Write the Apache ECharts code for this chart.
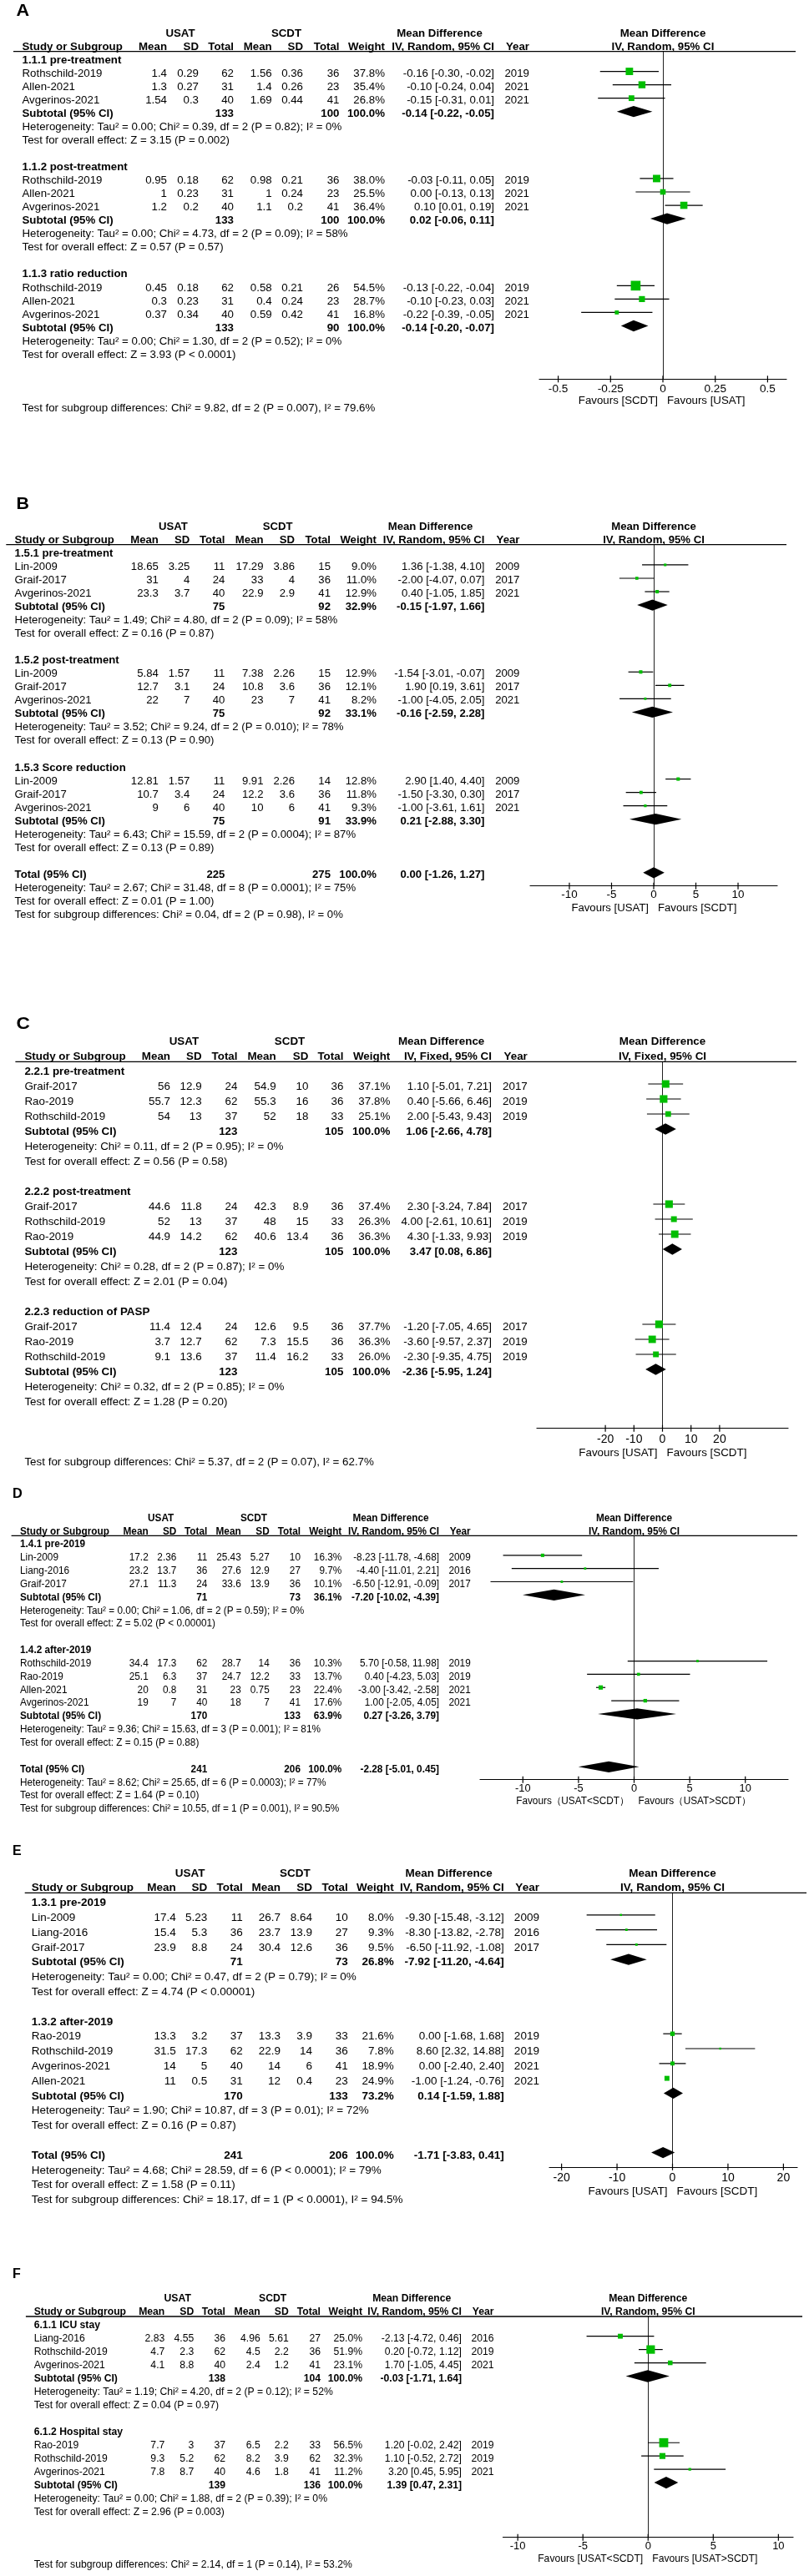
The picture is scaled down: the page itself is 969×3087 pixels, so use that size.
<!DOCTYPE html>
<html><head><meta charset="utf-8">
<script src="https://cdn.jsdelivr.net/npm/echarts@6/dist/echarts.min.js"></script>
<style>html,body{margin:0;padding:0;background:#fff}#c{width:969px;height:3087px}</style>
</head><body><div id="c"></div>
<script>
// ================= DATA =================
// ---- Panel A ----
const A_groups = ["1.1.1 pre-treatment", "1.1.2 post-treatment", "1.1.3 ratio reduction"];
const A_study = ["Rothschild-2019","Allen-2021","Avgerinos-2021","Rothschild-2019","Allen-2021","Avgerinos-2021","Rothschild-2019","Allen-2021","Avgerinos-2021"];
const A_group = [0,0,0,1,1,1,2,2,2];
const A_m1 = [1.4,1.3,1.54,0.95,1,1.2,0.45,0.3,0.37];
const A_sd1 = [0.29,0.27,0.3,0.18,0.23,0.2,0.18,0.23,0.34];
const A_n1 = [62,31,40,62,31,40,62,31,40];
const A_m2 = [1.56,1.4,1.69,0.98,1,1.1,0.58,0.4,0.59];
const A_sd2 = [0.36,0.26,0.44,0.21,0.24,0.2,0.21,0.24,0.42];
const A_n2 = [36,23,41,36,23,41,26,23,41];
const A_weight = [37.8,35.4,26.8,38.0,25.5,36.4,54.5,28.7,16.8];
const A_md = [-0.16,-0.10,-0.15,-0.03,0.00,0.10,-0.13,-0.10,-0.22];
const A_lo = [-0.30,-0.24,-0.31,-0.11,-0.13,0.01,-0.22,-0.23,-0.39];
const A_hi = [-0.02,0.04,0.01,0.05,0.13,0.19,-0.04,0.03,-0.05];
const A_year = [2019,2021,2021,2019,2021,2021,2019,2021,2021];
const A_subN1 = [133,133,133];
const A_subN2 = [100,100,90];
const A_subW = [100,100,100];
const A_subMd = [-0.14,0.02,-0.14];
const A_subLo = [-0.22,-0.06,-0.20];
const A_subHi = [-0.05,0.11,-0.07];
const A_het = ["Tau² = 0.00; Chi² = 0.39, df = 2 (P = 0.82); I² = 0%","Tau² = 0.00; Chi² = 4.73, df = 2 (P = 0.09); I² = 58%","Tau² = 0.00; Chi² = 1.30, df = 2 (P = 0.52); I² = 0%"];
const A_z = ["Z = 3.15 (P = 0.002)","Z = 0.57 (P = 0.57)","Z = 3.93 (P < 0.0001)"];
const A_subgroupTest = "Chi² = 9.82, df = 2 (P = 0.007), I² = 79.6%";
const A_ticks = [-0.5,-0.25,0,0.25,0.5];
const A_favours = ["Favours [SCDT]","Favours [USAT]"];

// ---- Panel B ----
const B_groups = ["1.5.1 pre-treatment","1.5.2 post-treatment","1.5.3 Score reduction"];
const B_study = ["Lin-2009","Graif-2017","Avgerinos-2021","Lin-2009","Graif-2017","Avgerinos-2021","Lin-2009","Graif-2017","Avgerinos-2021"];
const B_group = [0,0,0,1,1,1,2,2,2];
const B_m1 = [18.65,31,23.3,5.84,12.7,22,12.81,10.7,9];
const B_sd1 = [3.25,4,3.7,1.57,3.1,7,1.57,3.4,6];
const B_n1 = [11,24,40,11,24,40,11,24,40];
const B_m2 = [17.29,33,22.9,7.38,10.8,23,9.91,12.2,10];
const B_sd2 = [3.86,4,2.9,2.26,3.6,7,2.26,3.6,6];
const B_n2 = [15,36,41,15,36,41,14,36,41];
const B_weight = [9.0,11.0,12.9,12.9,12.1,8.2,12.8,11.8,9.3];
const B_md = [1.36,-2.00,0.40,-1.54,1.90,-1.00,2.90,-1.50,-1.00];
const B_lo = [-1.38,-4.07,-1.05,-3.01,0.19,-4.05,1.40,-3.30,-3.61];
const B_hi = [4.10,0.07,1.85,-0.07,3.61,2.05,4.40,0.30,1.61];
const B_year = [2009,2017,2021,2009,2017,2021,2009,2017,2021];
const B_subN1 = [75,75,75];
const B_subN2 = [92,92,91];
const B_subW = [32.9,33.1,33.9];
const B_subMd = [-0.15,-0.16,0.21];
const B_subLo = [-1.97,-2.59,-2.88];
const B_subHi = [1.66,2.28,3.30];
const B_het = ["Tau² = 1.49; Chi² = 4.80, df = 2 (P = 0.09); I² = 58%","Tau² = 3.52; Chi² = 9.24, df = 2 (P = 0.010); I² = 78%","Tau² = 6.43; Chi² = 15.59, df = 2 (P = 0.0004); I² = 87%"];
const B_z = ["Z = 0.16 (P = 0.87)","Z = 0.13 (P = 0.90)","Z = 0.13 (P = 0.89)"];
const B_total = [225,275,100.0,0.00,-1.26,1.27];
const B_totalHet = "Tau² = 2.67; Chi² = 31.48, df = 8 (P = 0.0001); I² = 75%";
const B_totalZ = "Z = 0.01 (P = 1.00)";
const B_subgroupTest = "Chi² = 0.04, df = 2 (P = 0.98), I² = 0%";
const B_ticks = [-10,-5,0,5,10];
const B_favours = ["Favours [USAT]","Favours [SCDT]"];

// ---- Panel C ----
const C_groups = ["2.2.1 pre-treatment","2.2.2 post-treatment","2.2.3 reduction of PASP"];
const C_study = ["Graif-2017","Rao-2019","Rothschild-2019","Graif-2017","Rothschild-2019","Rao-2019","Graif-2017","Rao-2019","Rothschild-2019"];
const C_group = [0,0,0,1,1,1,2,2,2];
const C_m1 = [56,55.7,54,44.6,52,44.9,11.4,3.7,9.1];
const C_sd1 = [12.9,12.3,13,11.8,13,14.2,12.4,12.7,13.6];
const C_n1 = [24,62,37,24,37,62,24,62,37];
const C_m2 = [54.9,55.3,52,42.3,48,40.6,12.6,7.3,11.4];
const C_sd2 = [10,16,18,8.9,15,13.4,9.5,15.5,16.2];
const C_n2 = [36,36,33,36,33,36,36,36,33];
const C_weight = [37.1,37.8,25.1,37.4,26.3,36.3,37.7,36.3,26.0];
const C_md = [1.10,0.40,2.00,2.30,4.00,4.30,-1.20,-3.60,-2.30];
const C_lo = [-5.01,-5.66,-5.43,-3.24,-2.61,-1.33,-7.05,-9.57,-9.35];
const C_hi = [7.21,6.46,9.43,7.84,10.61,9.93,4.65,2.37,4.75];
const C_year = [2017,2019,2019,2017,2019,2019,2017,2019,2019];
const C_subN1 = [123,123,123];
const C_subN2 = [105,105,105];
const C_subW = [100,100,100];
const C_subMd = [1.06,3.47,-2.36];
const C_subLo = [-2.66,0.08,-5.95];
const C_subHi = [4.78,6.86,1.24];
const C_het = ["Chi² = 0.11, df = 2 (P = 0.95); I² = 0%","Chi² = 0.28, df = 2 (P = 0.87); I² = 0%","Chi² = 0.32, df = 2 (P = 0.85); I² = 0%"];
const C_z = ["Z = 0.56 (P = 0.58)","Z = 2.01 (P = 0.04)","Z = 1.28 (P = 0.20)"];
const C_subgroupTest = "Chi² = 5.37, df = 2 (P = 0.07), I² = 62.7%";
const C_ticks = [-20,-10,0,10,20];
const C_favours = ["Favours [USAT]","Favours [SCDT]"];

// ---- Panel D ----
const D_groups = ["1.4.1 pre-2019","1.4.2 after-2019"];
const D_study = ["Lin-2009","Liang-2016","Graif-2017","Rothschild-2019","Rao-2019","Allen-2021","Avgerinos-2021"];
const D_group = [0,0,0,1,1,1,1];
const D_m1 = [17.2,23.2,27.1,34.4,25.1,20,19];
const D_sd1 = [2.36,13.7,11.3,17.3,6.3,0.8,7];
const D_n1 = [11,36,24,62,37,31,40];
const D_m2 = [25.43,27.6,33.6,28.7,24.7,23,18];
const D_sd2 = [5.27,12.9,13.9,14,12.2,0.75,7];
const D_n2 = [10,27,36,36,33,23,41];
const D_weight = [16.3,9.7,10.1,10.3,13.7,22.4,17.6];
const D_md = [-8.23,-4.40,-6.50,5.70,0.40,-3.00,1.00];
const D_lo = [-11.78,-11.01,-12.91,-0.58,-4.23,-3.42,-2.05];
const D_hi = [-4.68,2.21,-0.09,11.98,5.03,-2.58,4.05];
const D_year = [2009,2016,2017,2019,2019,2021,2021];
const D_subN1 = [71,170];
const D_subN2 = [73,133];
const D_subW = [36.1,63.9];
const D_subMd = [-7.20,0.27];
const D_subLo = [-10.02,-3.26];
const D_subHi = [-4.39,3.79];
const D_het = ["Tau² = 0.00; Chi² = 1.06, df = 2 (P = 0.59); I² = 0%","Tau² = 9.36; Chi² = 15.63, df = 3 (P = 0.001); I² = 81%"];
const D_z = ["Z = 5.02 (P < 0.00001)","Z = 0.15 (P = 0.88)"];
const D_total = [241,206,100.0,-2.28,-5.01,0.45];
const D_totalHet = "Tau² = 8.62; Chi² = 25.65, df = 6 (P = 0.0003); I² = 77%";
const D_totalZ = "Z = 1.64 (P = 0.10)";
const D_subgroupTest = "Chi² = 10.55, df = 1 (P = 0.001), I² = 90.5%";
const D_ticks = [-10,-5,0,5,10];
const D_favours = ["Favours（USAT<SCDT）","Favours（USAT>SCDT）"];

// ---- Panel E ----
const E_groups = ["1.3.1 pre-2019","1.3.2 after-2019"];
const E_study = ["Lin-2009","Liang-2016","Graif-2017","Rao-2019","Rothschild-2019","Avgerinos-2021","Allen-2021"];
const E_group = [0,0,0,1,1,1,1];
const E_m1 = [17.4,15.4,23.9,13.3,31.5,14,11];
const E_sd1 = [5.23,5.3,8.8,3.2,17.3,5,0.5];
const E_n1 = [11,36,24,37,62,40,31];
const E_m2 = [26.7,23.7,30.4,13.3,22.9,14,12];
const E_sd2 = [8.64,13.9,12.6,3.9,14,6,0.4];
const E_n2 = [10,27,36,33,36,41,23];
const E_weight = [8.0,9.3,9.5,21.6,7.8,18.9,24.9];
const E_md = [-9.30,-8.30,-6.50,0.00,8.60,0.00,-1.00];
const E_lo = [-15.48,-13.82,-11.92,-1.68,2.32,-2.40,-1.24];
const E_hi = [-3.12,-2.78,-1.08,1.68,14.88,2.40,-0.76];
const E_year = [2009,2016,2017,2019,2019,2021,2021];
const E_subN1 = [71,170];
const E_subN2 = [73,133];
const E_subW = [26.8,73.2];
const E_subMd = [-7.92,0.14];
const E_subLo = [-11.20,-1.59];
const E_subHi = [-4.64,1.88];
const E_het = ["Tau² = 0.00; Chi² = 0.47, df = 2 (P = 0.79); I² = 0%","Tau² = 1.90; Chi² = 10.87, df = 3 (P = 0.01); I² = 72%"];
const E_z = ["Z = 4.74 (P < 0.00001)","Z = 0.16 (P = 0.87)"];
const E_total = [241,206,100.0,-1.71,-3.83,0.41];
const E_totalHet = "Tau² = 4.68; Chi² = 28.59, df = 6 (P < 0.0001); I² = 79%";
const E_totalZ = "Z = 1.58 (P = 0.11)";
const E_subgroupTest = "Chi² = 18.17, df = 1 (P < 0.0001), I² = 94.5%";
const E_ticks = [-20,-10,0,10,20];
const E_favours = ["Favours [USAT]","Favours [SCDT]"];

// ---- Panel F ----
const F_groups = ["6.1.1 ICU stay","6.1.2 Hospital stay"];
const F_study = ["Liang-2016","Rothschild-2019","Avgerinos-2021","Rao-2019","Rothschild-2019","Avgerinos-2021"];
const F_group = [0,0,0,1,1,1];
const F_m1 = [2.83,4.7,4.1,7.7,9.3,7.8];
const F_sd1 = [4.55,2.3,8.8,3,5.2,8.7];
const F_n1 = [36,62,40,37,62,40];
const F_m2 = [4.96,4.5,2.4,6.5,8.2,4.6];
const F_sd2 = [5.61,2.2,1.2,2.2,3.9,1.8];
const F_n2 = [27,36,41,33,62,41];
const F_weight = [25.0,51.9,23.1,56.5,32.3,11.2];
const F_md = [-2.13,0.20,1.70,1.20,1.10,3.20];
const F_lo = [-4.72,-0.72,-1.05,-0.02,-0.52,0.45];
const F_hi = [0.46,1.12,4.45,2.42,2.72,5.95];
const F_year = [2016,2019,2021,2019,2019,2021];
const F_subN1 = [138,139];
const F_subN2 = [104,136];
const F_subW = [100,100];
const F_subMd = [-0.03,1.39];
const F_subLo = [-1.71,0.47];
const F_subHi = [1.64,2.31];
const F_het = ["Tau² = 1.19; Chi² = 4.20, df = 2 (P = 0.12); I² = 52%","Tau² = 0.00; Chi² = 1.88, df = 2 (P = 0.39); I² = 0%"];
const F_z = ["Z = 0.04 (P = 0.97)","Z = 2.96 (P = 0.003)"];
const F_subgroupTest = "Chi² = 2.14, df = 1 (P = 0.14), I² = 53.2%";
const F_ticks = [-10,-5,0,5,10];
const F_favours = ["Favours [USAT<SCDT]","Favours [USAT>SCDT]"];

// ================= LAYOUT / STYLE =================
const FONT = "'Liberation Sans', Arial, sans-serif";
const GREEN = '#00BE00';

function pack(label, method, groups, study, group, m1, sd1, n1, m2, sd2, n2, weight, md, lo, hi, year,
              subN1, subN2, subW, subMd, subLo, subHi, het, z, total, totalHet, totalZ, subgroupTest, ticks, favours) {
  return {label, method, groups, study, group, m1, sd1, n1, m2, sd2, n2, weight, md, lo, hi, year,
          subN1, subN2, subW, subMd, subLo, subHi, het, z, total, totalHet, totalZ, subgroupTest, ticks, favours};
}

const PANELS = [
  {d: pack('A','IV, Random, 95% CI',A_groups,A_study,A_group,A_m1,A_sd1,A_n1,A_m2,A_sd2,A_n2,A_weight,A_md,A_lo,A_hi,A_year,A_subN1,A_subN2,A_subW,A_subMd,A_subLo,A_subHi,A_het,A_z,null,null,null,A_subgroupTest,A_ticks,A_favours),
   L: {labelRow:-3.68, labelX:19.6, labelSize:20, font:12.3, sx:1.08, textY0:72.3, pitch:16.05, markOff:2.8, top:61.7, axisY:454.3,
       axL:646, axR:942, xMin:-0.59, xMax:0.59, lineL:16, lineR:953,
       cols:[200,238,280,325.7,363,406.5,461,592,634], studyX:26.5, usatX:216, scdtX:343, mdX:526.5,
       sqA:0.58, dH:13.3, tickMargin:4.5, tickFont:13.6, favDy:26.7}},
  {d: pack('B','IV, Random, 95% CI',B_groups,B_study,B_group,B_m1,B_sd1,B_n1,B_m2,B_sd2,B_n2,B_weight,B_md,B_lo,B_hi,B_year,B_subN1,B_subN2,B_subW,B_subMd,B_subLo,B_subHi,B_het,B_z,B_total,B_totalHet,B_totalZ,B_subgroupTest,B_ticks,B_favours),
   L: {labelRow:-3.65, labelX:19.6, labelSize:20, font:12.3, sx:1.07, textY0:663.5, pitch:16.04, markOff:2.6, top:652.7, axisY:1061.7,
       axL:635, axR:931, xMin:-14.65, xMax:14.65, lineL:7.3, lineR:942,
       cols:[189.8,227.3,269.4,315.5,353,396,451,580.4,622.4], studyX:17.6, usatX:207.3, scdtX:332.7, mdX:515.5,
       sqA:0.6, dH:13.3, tickMargin:4.5, tickFont:13.4, favDy:26.6}},
  {d: pack('C','IV, Fixed, 95% CI',C_groups,C_study,C_group,C_m1,C_sd1,C_n1,C_m2,C_sd2,C_n2,C_weight,C_md,C_lo,C_hi,C_year,C_subN1,C_subN2,C_subW,C_subMd,C_subLo,C_subHi,C_het,C_z,null,null,null,C_subgroupTest,C_ticks,C_favours),
   L: {labelRow:-3.21, labelX:19.6, labelSize:21, font:12.4, sx:1.08, textY0:1284.5, pitch:18, markOff:3.5, top:1272.3, axisY:1711.7,
       axL:643, axR:944, xMin:-44, xMax:44, lineL:18.4, lineR:954,
       cols:[204,241.6,284.5,330.6,369.4,411.4,467.3,589,631.8], studyX:29.4, usatX:220.4, scdtX:347, mdX:528.6,
       sqA:0.6, dH:13.3, tickMargin:6, tickFont:14, favDy:30}},
  {d: pack('D','IV, Random, 95% CI',D_groups,D_study,D_group,D_m1,D_sd1,D_n1,D_m2,D_sd2,D_n2,D_weight,D_md,D_lo,D_hi,D_year,D_subN1,D_subN2,D_subW,D_subMd,D_subLo,D_subHi,D_het,D_z,D_total,D_totalHet,D_totalZ,D_subgroupTest,D_ticks,D_favours),
   L: {labelRow:-3.85, labelX:15, labelSize:17, font:12.3, sx:0.96, textY0:1851, pitch:15.84, markOff:3, top:1840.3, axisY:2132.7,
       axL:575, axR:944, xMin:-13.85, xMax:13.85, lineL:13.6, lineR:955,
       cols:[177.7,211.3,248.3,288.7,322.7,360,409.3,526,563.7], studyX:24, usatX:192.7, scdtX:304, mdX:468,
       sqA:0.5, dH:13.3, tickMargin:4, tickFont:12.8, favDy:26}},
  {d: pack('E','IV, Random, 95% CI',E_groups,E_study,E_group,E_m1,E_sd1,E_n1,E_m2,E_sd2,E_n2,E_weight,E_md,E_lo,E_hi,E_year,E_subN1,E_subN2,E_subW,E_subMd,E_subLo,E_subHi,E_het,E_z,E_total,E_totalHet,E_totalZ,E_subgroupTest,E_ticks,E_favours),
   L: {labelRow:-3.49, labelX:15, labelSize:16, font:13.5, sx:1, textY0:2280.5, pitch:17.8, markOff:3.5, top:2268.3, axisY:2596.8,
       axL:658, axR:955, xMin:-22.2, xMax:22.5, lineL:29.7, lineR:966,
       cols:[210.7,248.3,290.7,336,374,416.7,471.7,603.8,645.9], studyX:37.7, usatX:227.7, scdtX:353.3, mdX:537.7,
       sqA:0.53, dH:13.3, tickMargin:6, tickFont:14, favDy:29.5}},
  {d: pack('F','IV, Random, 95% CI',F_groups,F_study,F_group,F_m1,F_sd1,F_n1,F_m2,F_sd2,F_n2,F_weight,F_md,F_lo,F_hi,F_year,F_subN1,F_subN2,F_subW,F_subMd,F_subLo,F_subHi,F_het,F_z,null,null,null,F_subgroupTest,F_ticks,F_favours),
   L: {labelRow:-3.84, labelX:15, labelSize:16, font:12.2, sx:1, textY0:2786.9, pitch:15.95, markOff:3.2, top:2776, axisY:3040.7,
       axL:602.5, axR:950, xMin:-11.13, xMax:11.13, lineL:30.9, lineR:961,
       cols:[197.3,232.3,270,311.7,345.7,384,434,553,591.5], studyX:40.7, usatX:212.7, scdtX:326.7, mdX:493.2,
       sqA:0.525, dH:14.4, tickMargin:4.5, tickFont:13, favDy:26}}
];

// ================= BUILD =================
function buildRows(d) {
  const items = [];
  let r = 0;
  d.groups.forEach((g, gi) => {
    items.push([0, r, 0, gi]);
    let k = 0;
    d.group.forEach((gg, i) => { if (gg === gi) { k++; items.push([0, r + k, 1, i]); } });
    items.push([0, r + k + 1, 2, gi]);
    items.push([0, r + k + 2, 3, gi]);
    items.push([0, r + k + 3, 4, gi]);
    r += k + 5;
  });
  const last = r - 2;
  if (d.total) {
    items.push([0, last + 2, 5, 0]);
    items.push([0, last + 3, 6, 0]);
    items.push([0, last + 4, 7, 0]);
    items.push([0, last + 5, 8, 0]);
  } else {
    items.push([0, last + 4, 8, 0]);
  }
  items.push([0, 0, 9, 0]);
  return items;
}

function makeRender(P) {
  const d = P.d, L = P.L, fs = L.font;
  const txt = (x, y, s, align, bold, size) => ({
    type: 'text', x: x, y: y, scaleX: L.sx, silent: true,
    style: {text: s, fill: '#000', fontFamily: FONT, fontSize: size || fs,
            fontWeight: bold ? 'bold' : 'normal', align: align || 'left', verticalAlign: 'middle'}
  });
  const f2 = v => v.toFixed(2);
  const ci = (m, l, h) => f2(m) + ' [' + f2(l) + ', ' + f2(h) + ']';
  const markY0 = L.textY0 - L.markOff;
  const yMinV = (L.top - markY0) / L.pitch, yMaxV = (L.axisY - markY0) / L.pitch;
  return function (params, api) {
    const r = api.value(1), kind = api.value(2), i = api.value(3);
    const yM = api.coord([0, r])[1];
    const yT = yM + L.markOff;
    const X = v => api.coord([v, r])[0];
    const C = L.cols;
    const ch = [];
    const diamond = (m, l, h) => ch.push({type: 'polygon', shape: {points: [[X(l), yM], [X(m), yM - L.dH / 2], [X(h), yM], [X(m), yM + L.dH / 2]]}, style: {fill: '#000'}});
    if (kind === 0) {
      ch.push(txt(L.studyX, yT, d.groups[i], 'left', true));
    } else if (kind === 1) {
      ch.push(txt(L.studyX, yT, d.study[i]));
      [d.m1[i], d.sd1[i], d.n1[i], d.m2[i], d.sd2[i], d.n2[i]].forEach((v, j) => ch.push(txt(C[j], yT, String(v), 'right')));
      ch.push(txt(C[6], yT, d.weight[i].toFixed(1) + '%', 'right'));
      ch.push(txt(C[7], yT, ci(d.md[i], d.lo[i], d.hi[i]), 'right'));
      ch.push(txt(C[8], yT, String(d.year[i]), 'right'));
      const s = L.sqA * Math.pow(d.weight[i], 0.75);
      ch.push({type: 'line', shape: {x1: X(d.lo[i]), y1: yM, x2: X(d.hi[i]), y2: yM}, style: {stroke: '#000', lineWidth: 1.2}});
      ch.push({type: 'rect', shape: {x: X(d.md[i]) - s / 2, y: yM - s / 2, width: s, height: s}, style: {fill: GREEN}});
    } else if (kind === 2) {
      ch.push(txt(L.studyX, yT, 'Subtotal (95% CI)', 'left', true));
      ch.push(txt(C[2], yT, String(d.subN1[i]), 'right', true));
      ch.push(txt(C[5], yT, String(d.subN2[i]), 'right', true));
      ch.push(txt(C[6], yT, d.subW[i].toFixed(1) + '%', 'right', true));
      ch.push(txt(C[7], yT, ci(d.subMd[i], d.subLo[i], d.subHi[i]), 'right', true));
      diamond(d.subMd[i], d.subLo[i], d.subHi[i]);
    } else if (kind === 3) {
      ch.push(txt(L.studyX, yT, 'Heterogeneity: ' + d.het[i]));
    } else if (kind === 4) {
      ch.push(txt(L.studyX, yT, 'Test for overall effect: ' + d.z[i]));
    } else if (kind === 5) {
      const t = d.total;
      ch.push(txt(L.studyX, yT, 'Total (95% CI)', 'left', true));
      ch.push(txt(C[2], yT, String(t[0]), 'right', true));
      ch.push(txt(C[5], yT, String(t[1]), 'right', true));
      ch.push(txt(C[6], yT, t[2].toFixed(1) + '%', 'right', true));
      ch.push(txt(C[7], yT, ci(t[3], t[4], t[5]), 'right', true));
      diamond(t[3], t[4], t[5]);
    } else if (kind === 6) {
      ch.push(txt(L.studyX, yT, 'Heterogeneity: ' + d.totalHet));
    } else if (kind === 7) {
      ch.push(txt(L.studyX, yT, 'Test for overall effect: ' + d.totalZ));
    } else if (kind === 8) {
      ch.push(txt(L.studyX, yT, 'Test for subgroup differences: ' + d.subgroupTest));
    } else if (kind === 9) {
      const yH1 = api.coord([0, -2])[1] + L.markOff;
      const yH2 = api.coord([0, -1])[1] + L.markOff;
      const yLab = api.coord([0, L.labelRow])[1] + L.markOff;
      const yTop = api.coord([0, yMinV])[1];
      const yAx = api.coord([0, yMaxV])[1];
      const x0 = X(0);
      ch.push(txt(L.labelX, yLab, d.label, 'left', true, L.labelSize));
      ch.push(txt(L.usatX, yH1, 'USAT', 'center', true));
      ch.push(txt(L.scdtX, yH1, 'SCDT', 'center', true));
      ch.push(txt(L.mdX, yH1, 'Mean Difference', 'center', true));
      ch.push(txt(x0, yH1, 'Mean Difference', 'center', true));
      ch.push(txt(L.studyX, yH2, 'Study or Subgroup', 'left', true));
      ['Mean', 'SD', 'Total', 'Mean', 'SD', 'Total', 'Weight'].forEach((h, j) => ch.push(txt(C[j], yH2, h, 'right', true)));
      ch.push(txt(C[7], yH2, d.method, 'right', true));
      ch.push(txt(C[8], yH2, 'Year', 'right', true));
      ch.push(txt(x0, yH2, d.method, 'center', true));
      ch.push({type: 'line', shape: {x1: L.lineL, y1: yTop, x2: L.lineR, y2: yTop}, style: {stroke: '#000', lineWidth: 1.3}});
      d.ticks.forEach(t => {
        const xt = X(t);
        ch.push({type: 'line', shape: {x1: xt, y1: yAx - 4, x2: xt, y2: yAx + 4}, style: {stroke: '#000', lineWidth: 1.2}});
      });
      ch.push(txt(x0 - 6, yAx + L.favDy, d.favours[0], 'right'));
      ch.push(txt(x0 + 5, yAx + L.favDy, d.favours[1], 'left'));
    }
    return {type: 'group', children: ch};
  };
}

const grids = [], xAxes = [], yAxes = [], series = [];
PANELS.forEach((P, k) => {
  const L = P.L;
  const markY0 = L.textY0 - L.markOff;
  grids.push({left: L.axL, top: L.top, width: L.axR - L.axL, height: L.axisY - L.top, containLabel: false, outerBoundsMode: 'none'});
  xAxes.push({
    gridIndex: k, type: 'value', min: L.xMin, max: L.xMax,
    axisLine: {show: true, onZero: false, lineStyle: {color: '#000', width: 1.2}},
    axisTick: {show: false}, splitLine: {show: false},
    axisLabel: {customValues: P.d.ticks, color: '#000', fontSize: L.tickFont, fontFamily: FONT, margin: L.tickMargin,
                formatter: v => String(v), showMinLabel: true, showMaxLabel: true}
  });
  yAxes.push({
    gridIndex: k, type: 'value', inverse: true,
    min: (L.top - markY0) / L.pitch, max: (L.axisY - markY0) / L.pitch,
    axisLine: {show: true, onZero: true, lineStyle: {color: '#222', width: 1}},
    axisTick: {show: false}, axisLabel: {show: false}, splitLine: {show: false}
  });
  series.push({
    type: 'custom', xAxisIndex: k, yAxisIndex: k, coordinateSystem: 'cartesian2d',
    data: buildRows(P.d), renderItem: makeRender(P), silent: true, clip: false, z: 5,
    encode: {x: 0, y: 1}
  });
});

const chart = echarts.init(document.getElementById('c'), null, {renderer: 'canvas', width: 969, height: 3087});
chart.setOption({
  animation: false,
  backgroundColor: '#fff',
  grid: grids, xAxis: xAxes, yAxis: yAxes, series: series
});
</script>
</body></html>
